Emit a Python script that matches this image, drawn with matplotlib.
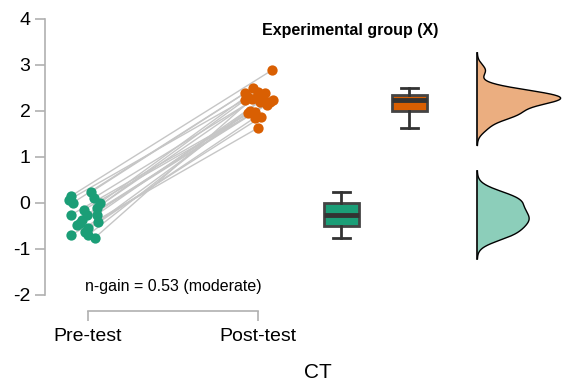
import numpy as np
import matplotlib
matplotlib.use("Agg")
import matplotlib.pyplot as plt
from matplotlib.colors import to_rgba

plt.rcParams['font.family'] = ['Liberation Sans', 'DejaVu Sans']

# ---- data ----
pre_values = [0.15, 0.00, 0.24, 0.11, -0.11, -0.26, -0.26, -0.26, -0.41, -0.43,
              -0.48, -0.54, -0.63, -0.70, -0.70, -0.76, -0.37, 0.00, -0.15, 0.07]
pre_jitter = [-0.10, -0.09, 0.02, 0.035, 0.05, -0.10, -0.005, 0.05, 0.06, -0.05,
              -0.065, 0.0, -0.02, -0.10, 0.0, 0.04, -0.035, 0.07, -0.025, -0.11]
post_values = [2.88, 2.50, 2.39, 2.39, 2.30, 2.20, 2.24, 2.20, 2.00, 2.13,
               1.96, 1.87, 1.85, 1.63, 2.28, 2.26, 2.24, 2.32, 1.97, 2.41]
post_jitter = [0.08, -0.03, -0.075, 0.04, -0.005, 0.07, -0.075, 0.01, -0.05, 0.05,
               -0.06, 0.02, -0.02, 0.0, 0.03, -0.035, 0.09, -0.065, -0.02, 0.0]
tick_labels = ["Pre-test", "Post-test"]
y_ticks = [-2, -1, 0, 1, 2, 3, 4]
title = "Experimental group (X)"
annotation = "n-gain = 0.53 (moderate)"
xlabel = "CT"

green = "#1b9e77"
orange = "#d95f02"

fig = plt.figure(figsize=(5.62, 3.82), dpi=100)
ax = fig.add_axes([45/562, (382-311)/382, (562-45)/562, 311/382])
ax.set_xlim(0.747, 3.788)
ax.set_ylim(-2.35, 4.41)

pre = np.array(pre_values)
post = np.array(post_values)
xp = 1 + np.array(pre_jitter)
xq = 2 + np.array(post_jitter)

# connecting lines
for a, b, c, d in zip(xp, pre, xq, post):
    ax.plot([a, c], [b, d], color="#c6c6c6", lw=1.0, zorder=1)

ax.scatter(xp, pre, s=55, color=green, zorder=3, linewidths=0)
ax.scatter(xq, post, s=55, color=orange, zorder=3, linewidths=0)

# boxplots
box_pos = [2.49, 2.89]
bp = ax.boxplot([pre, post], positions=box_pos, widths=0.205, patch_artist=True,
                showfliers=False, manage_ticks=False,
                whiskerprops=dict(color="#333333", lw=2),
                capprops=dict(color="#333333", lw=2),
                medianprops=dict(color="#333333", lw=3.5),
                boxprops=dict(edgecolor="#444444", lw=2))
for patch, col in zip(bp['boxes'], [green, orange]):
    patch.set_facecolor(col)
for cap in bp['caps']:
    xd = cap.get_xdata()
    m = np.mean(xd)
    cap.set_xdata([m - 0.05, m + 0.05])

# half violins (R nrd0 bandwidth, cut = 3)
def kde(v):
    v = np.asarray(v)
    n = len(v)
    iqr = np.subtract(*np.percentile(v, [75, 25]))
    bw = 0.9 * min(v.std(ddof=1), iqr / 1.34) * n ** (-0.2)
    grid = np.linspace(v.min() - 3 * bw, v.max() + 3 * bw, 300)
    dens = np.exp(-0.5 * ((grid[:, None] - v[None, :]) / bw) ** 2).sum(1) / (n * bw * np.sqrt(2 * np.pi))
    return grid, dens

vx = 3.29
curves = [kde(pre), kde(post)]
scale = 0.49 / max(c[1].max() for c in curves)
for (g, d), col in zip(curves, [green, orange]):
    ax.fill_betweenx(g, vx, vx + d * scale, facecolor=to_rgba(col, 0.5), edgecolor="none", zorder=2)
    ax.plot(vx + d * scale, g, color="black", lw=1, zorder=3, clip_on=False)
    ax.plot([vx, vx], [g.min(), g.max()], color="black", lw=1.2, zorder=3)

# axes styling
for s in ["top", "right"]:
    ax.spines[s].set_visible(False)
ax.spines["left"].set_bounds(-2, 4)
ax.spines["bottom"].set_bounds(1, 2)
for s in ["left", "bottom"]:
    ax.spines[s].set_color("#b0b0b0")
    ax.spines[s].set_linewidth(1.2)
ax.set_yticks(y_ticks)
ax.set_yticklabels([str(t) for t in y_ticks])
ax.set_xticks([1, 2])
ax.set_xticklabels(tick_labels)
ax.tick_params(axis="both", colors="#b0b0b0", labelcolor="black", labelsize=14,
               length=7, width=1.2)
ax.tick_params(axis="x", pad=5)

ax.text(1.5, -1.82, annotation, ha="center", va="center", fontsize=11.5)
fig.text(350/562, 1 - 31/382, title, ha="center", va="center", fontsize=11.5, fontweight="bold")
fig.text(318/562, 1 - 372/382, xlabel, ha="center", va="center", fontsize=15)

fig.savefig("out.png", dpi=100)
